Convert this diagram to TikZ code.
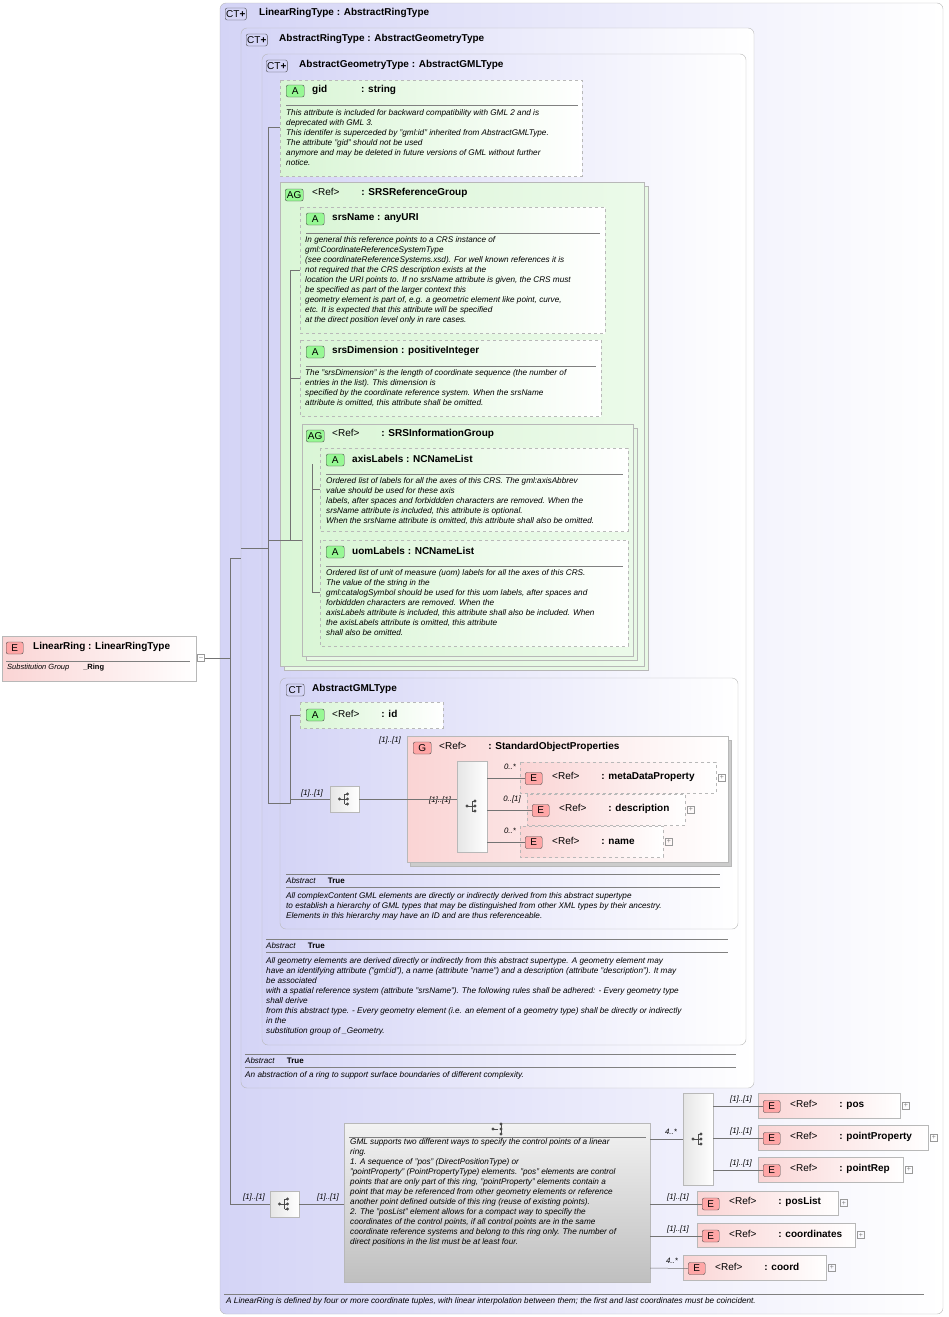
\documentclass[tikz,border=0pt]{standalone}
\usepackage{fontspec}
\setmainfont{Liberation Sans}
\usetikzlibrary{shadows}
\definecolor{lav}{HTML}{D4D4F6}
\definecolor{grn}{HTML}{D8F5D4}
\definecolor{pnk}{HTML}{FAD4D4}
\definecolor{bdr}{HTML}{B8B8B8}
\tikzset{
 ct/.style={draw=bdr,rounded corners=6pt,left color=lav,right color=white,shading angle=90},
 attb/.style={draw=bdr,dashed,left color=grn,right color=white},
 el/.style={draw=bdr,left color=pnk,right color=white},
 eld/.style={el,dashed},
 badge/.style={draw=black!70,rounded corners=2pt,inner sep=1pt,minimum width=18pt,minimum height=12pt,font=\fontsize{10}{10}\selectfont,anchor=west},
 ttl/.style={anchor=west,font=\fontsize{10}{12}\selectfont\bfseries,inner sep=0pt},
 dsc/.style={anchor=north west,font=\fontsize{8.2}{10}\selectfont\itshape,align=left,inner sep=0pt},
 card/.style={font=\fontsize{7.8}{9}\selectfont\itshape,inner sep=1pt},
 ln/.style={draw=black!55,line width=0.5pt},
 seq/.style={draw=bdr,left color=black!10,right color=white},
 plus/.style={draw=black!40,minimum size=7pt,inner sep=0pt,font=\fontsize{7}{7}\selectfont,text=black!50},
}
\newcommand\Badge[4]{\node[badge,fill=#3] (#1) at (#2) {#4};}
\newcommand\Seqicon[2]{% name, center
 \node[seq,minimum width=29pt,minimum height=26pt] (#1) at (#2) {};
 \fill[black!70] (#1.center)++(-5,0) circle(1.6) ++(8,-5) circle(1.6) ++(0,5) circle(1.6) ++(0,5) circle(1.6);
 \draw[black!70] (#1.center)++(-5,0) -- ++(5,0) ++(0,-5) -- ++(0,10) ++(0,-10) -- ++(3,0) ++(-3,5) -- ++(3,0) ++(-3,5) -- ++(3,0);}
\newcommand\Ebox[7]{% name, x1,y1,x2,y2, style, text
 \path[#6] (#2,#3) rectangle (#4,#5);
 \node[badge,fill=red!35,minimum width=17pt] (#1b) at (#2+5,{(#3+#5)/2+1}) {E};
 \node[ttl] (#1) at (#2+32,{(#3+#5)/2-1}) {#7};
 \node[plus] (#1p) at (#4+6,{(#3+#5)/2}) {+};}
\begin{document}
\begin{tikzpicture}[x=1pt,y=-1pt]
\useasboundingbox (0,0) rectangle (948,1317);
% outer
\path[ct] (220,3) rectangle (943,1314);
\Badge{b1}{225,14}{lav}{CT\textbf{+}}
\node[ttl] (t1) at (259,13) {LinearRingType : AbstractRingType};
\path[ct] (241,28) rectangle (754,1088);
\Badge{b2}{246,40}{lav}{CT\textbf{+}}
\node[ttl] (t2) at (279,39) {AbstractRingType : AbstractGeometryType};
\path[ct] (262,54) rectangle (746,1045);
\Badge{b3}{266,66}{lav}{CT\textbf{+}}
\node[ttl] (t3) at (299,65) {AbstractGeometryType : AbstractGMLType};
% gid
\path[attb] (280,80) rectangle (582,176);
\Badge{bg}{286,91}{grn!70!green}{A}
\node[ttl] (gid) at (312,90) {gid\hspace{34pt}: string};
\draw[black!50] (286,105) -- (578,105);
\node[dsc] (gidd) at (286,109) {This attribute is included for backward compatibility with GML 2 and is\\deprecated with GML 3.\\This identifer is superceded by "gml:id" inherited from AbstractGMLType.\\The attribute "gid" should not be used\\anymore and may be deleted in future versions of GML without further\\notice.};
% SRSReferenceGroup
\path[draw=bdr,fill=grn!60] (284,186) rectangle (648,670);
\path[draw=bdr,left color=grn!95,right color=grn!50] (280,182) rectangle (644,666);
\Badge{ba}{285,195}{grn!70!green}{AG}
\node[ttl] (srg) at (312,193) {\mdseries<Ref>\hspace{22pt}\bfseries: SRSReferenceGroup};
\path[attb] (300,207) rectangle (605,333);
\Badge{bs1}{306,219}{grn!70!green}{A}
\node[ttl] (srsn) at (332,218) {srsName : anyURI};
\draw[black!50] (306,233) -- (600,233);
\node[dsc] (srsnd) at (305,236) {In general this reference points to a CRS instance of\\gml:CoordinateReferenceSystemType\\(see coordinateReferenceSystems.xsd). For well known references it is\\not required that the CRS description exists at the\\location the URI points to. If no srsName attribute is given, the CRS must\\be specified as part of the larger context this\\geometry element is part of, e.g. a geometric element like point, curve,\\etc. It is expected that this attribute will be specified\\at the direct position level only in rare cases.};
\path[attb] (300,340) rectangle (601,416);
\Badge{bs2}{306,352}{grn!70!green}{A}
\node[ttl] (srsd) at (332,351) {srsDimension : positiveInteger};
\draw[black!50] (306,366) -- (596,366);
\node[dsc] (srsdd) at (305,369) {The "srsDimension" is the length of coordinate sequence (the number of\\entries in the list). This dimension is\\specified by the coordinate reference system. When the srsName\\attribute is omitted, this attribute shall be omitted.};
% SRSInformationGroup
\path[draw=bdr,fill=grn!60] (306,428) rectangle (637,660);
\path[draw=bdr,left color=grn!95,right color=grn!50] (302,424) rectangle (633,656);
\Badge{ba2}{306,436}{grn!70!green}{AG}
\node[ttl] (sig) at (332,434) {\mdseries<Ref>\hspace{22pt}\bfseries: SRSInformationGroup};
\path[attb] (320,448) rectangle (628,531);
\Badge{bs3}{326,460}{grn!70!green}{A}
\node[ttl] (axl) at (352,459) {axisLabels : NCNameList};
\draw[black!50] (326,474) -- (623,474);
\node[dsc] (axld) at (326,477) {Ordered list of labels for all the axes of this CRS. The gml:axisAbbrev\\value should be used for these axis\\labels, after spaces and forbiddden characters are removed. When the\\srsName attribute is included, this attribute is optional.\\When the srsName attribute is omitted, this attribute shall also be omitted.};
\path[attb] (320,540) rectangle (628,646);
\Badge{bs4}{326,552}{grn!70!green}{A}
\node[ttl] (uoml) at (352,551) {uomLabels : NCNameList};
\draw[black!50] (326,566) -- (623,566);
\node[dsc] (uomd) at (326,569) {Ordered list of unit of measure (uom) labels for all the axes of this CRS.\\The value of the string in the\\gml:catalogSymbol should be used for this uom labels, after spaces and\\forbiddden characters are removed. When the\\axisLabels attribute is included, this attribute shall also be included. When\\the axisLabels attribute is omitted, this attribute\\shall also be omitted.};
% AbstractGMLType
\path[ct] (280,678) rectangle (738,929);
\Badge{b4}{286,690}{lav}{CT}
\node[ttl] (t4) at (312,689) {AbstractGMLType};
\path[attb] (300,702) rectangle (443,728);
\Badge{bid}{306,715}{grn!70!green}{A}
\node[ttl] (idn) at (332,714) {\mdseries<Ref>\hspace{22pt}\bfseries: id};
\Seqicon{s1}{344.5,799}
\node[card] (c1) at (312,793) {[1]..[1]};
\node[card] (c2) at (390,740) {[1]..[1]};
\path[draw=bdr,fill=black!20] (410,740) rectangle (731,866);
\path[draw=bdr,left color=pnk,right color=white] (407,736) rectangle (728,862);
\node[badge,fill=red!35] (bgr) at (413,748) {G};
\node[ttl] (sop) at (439,747) {\mdseries<Ref>\hspace{22pt}\bfseries: StandardObjectProperties};
\node[seq,minimum width=30pt,minimum height=91pt] (s2) at (472,806.5) {};
\fill[black!70] (467,806) circle(1.6) (475,801) circle(1.6) (475,806) circle(1.6) (475,811) circle(1.6);
\draw[black!70] (467,806)--(472,806) (472,801)--(472,811) (472,801)--(475,801) (472,811)--(475,811) (472,806)--(475,806);
\node[card] (c3) at (440,800) {[1]..[1]};
\Ebox{mdp}{520}{762}{716}{793}{eld}{\mdseries<Ref>\hspace{22pt}\bfseries: metaDataProperty}
\Ebox{dsn}{527}{794}{685}{825}{eld}{\mdseries<Ref>\hspace{22pt}\bfseries: description}
\Ebox{nm}{520}{826}{663}{857}{eld}{\mdseries<Ref>\hspace{22pt}\bfseries: name}
\node[card] (c4) at (510,767) {0..*};
\node[card] (c5) at (512,799) {0..[1]};
\node[card] (c6) at (510,831) {0..*};
\draw[black!50] (286,874) -- (720,874);
\node[dsc,font=\fontsize{8}{10}\selectfont] (ab1) at (286,877) {\textit{Abstract}\hspace{12pt}\textbf{True}};
\draw[black!50] (286,887) -- (720,887);
\node[dsc] (ab1d) at (286,892) {All complexContent GML elements are directly or indirectly derived from this abstract supertype\\to establish a hierarchy of GML types that may be distinguished from other XML types by their ancestry.\\Elements in this hierarchy may have an ID and are thus referenceable.};
\draw[black!50] (266,939) -- (728,939);
\node[dsc,font=\fontsize{8}{10}\selectfont] (ab2) at (266,942) {\textit{Abstract}\hspace{12pt}\textbf{True}};
\draw[black!50] (266,952) -- (728,952);
\node[dsc] (ab2d) at (266,957) {All geometry elements are derived directly or indirectly from this abstract supertype. A geometry element may\\have an identifying attribute ("gml:id"), a name (attribute "name") and a description (attribute "description"). It may\\be associated\\with a spatial reference system (attribute "srsName"). The following rules shall be adhered: - Every geometry type\\shall derive\\from this abstract type. - Every geometry element (i.e. an element of a geometry type) shall be directly or indirectly\\in the\\substitution group of \_Geometry.};
\draw[black!50] (245,1054) -- (736,1054);
\node[dsc,font=\fontsize{8}{10}\selectfont] (ab3) at (245,1057) {\textit{Abstract}\hspace{12pt}\textbf{True}};
\draw[black!50] (245,1067) -- (736,1067);
\node[dsc] (ab3d) at (245,1071) {An abstraction of a ring to support surface boundaries of different complexity.};
% LinearRing element
\path[el] (2,636) rectangle (196,681);
\node[badge,fill=red!35,minimum width=17pt] (lrb) at (6,648) {E};
\node[ttl] (lr) at (33,647) {LinearRing : LinearRingType};
\draw[black!50] (6,661) -- (190,661);
\node[dsc,font=\fontsize{7.5}{9}\selectfont] (lrs) at (7,664) {\textit{Substitution Group}\hspace{14pt}\textbf{\_Ring}};
\node[plus] (lrp) at (201,658) {--};
% bottom
\Seqicon{s3}{284.5,1204}
\node[card] (c7) at (254,1197) {[1]..[1]};
\node[card] (c8) at (328,1197) {[1]..[1]};
\path[draw=bdr,top color=black!5,bottom color=black!25] (344,1123) rectangle (650,1282);
\fill[black!70] (493,1129) circle(1.6) (501,1124) circle(1.6) (501,1129) circle(1.6) (501,1134) circle(1.6);
\draw[black!70] (493,1129)--(498,1129) (501,1124)--(501,1134);
\draw[black!50] (349,1137) -- (646,1137);
\node[dsc] (chd) at (350,1138) {GML supports two different ways to specify the control points of a linear\\ring.\\1. A sequence of "pos" (DirectPositionType) or\\"pointProperty" (PointPropertyType) elements. "pos" elements are control\\points that are only part of this ring, "pointProperty" elements contain a\\point that may be referenced from other geometry elements or reference\\another point defined outside of this ring (reuse of existing points).\\2. The "posList" element allows for a compact way to specifiy the\\coordinates of the control points, if all control points are in the same\\coordinate reference systems and belong to this ring only. The number of\\direct positions in the list must be at least four.};
\node[seq,minimum width=30pt,minimum height=92pt] (s4) at (698,1139) {};
\fill[black!70] (693,1139) circle(1.6) (701,1134) circle(1.6) (701,1139) circle(1.6) (701,1144) circle(1.6);
\draw[black!70] (693,1139)--(698,1139) (698,1134)--(698,1144) (698,1134)--(701,1134) (698,1144)--(701,1144) (698,1139)--(701,1139);
\node[card] (c9) at (671,1132) {4..*};
\Ebox{pos}{758}{1093}{900}{1118}{el}{\mdseries<Ref>\hspace{22pt}\bfseries: pos}
\Ebox{pp}{758}{1125}{928}{1150}{el}{\mdseries<Ref>\hspace{22pt}\bfseries: pointProperty}
\Ebox{pr}{758}{1157}{903}{1182}{el}{\mdseries<Ref>\hspace{22pt}\bfseries: pointRep}
\Ebox{pl}{697}{1191}{838}{1215}{el}{\mdseries<Ref>\hspace{22pt}\bfseries: posList}
\Ebox{co}{697}{1223}{855}{1247}{el}{\mdseries<Ref>\hspace{22pt}\bfseries: coordinates}
\Ebox{cd}{683}{1255}{826}{1280}{el}{\mdseries<Ref>\hspace{22pt}\bfseries: coord}
\node[card] (c10) at (741,1099) {[1]..[1]};
\node[card] (c11) at (741,1131) {[1]..[1]};
\node[card] (c12) at (741,1163) {[1]..[1]};
\node[card] (c13) at (678,1197) {[1]..[1]};
\node[card] (c14) at (678,1229) {[1]..[1]};
\node[card] (c15) at (672,1261) {4..*};
\draw[black!50] (224,1294) -- (924,1294);
\node[dsc] (fin) at (226,1297) {A LinearRing is defined by four or more coordinate tuples, with linear interpolation between them; the first and last coordinates must be coincident.};
% connectors
\draw[ln] (lrp.east) -- (230,658) coordinate (j0);
\draw[ln] (230,558) -- (230,1204) -- (s3.west);
\draw[ln] (230,558) -- (241,558);
\draw[ln] (241,548) -- (268,548);
\draw[ln] (268,127) -- (268,803) -- (280,803);
\draw[ln] (268,127) -- (280,127);
\draw[ln] (268,540) -- (290,540);
\draw[ln] (290,270) -- (290,540);
\draw[ln] (290,270) -- (300,270);
\draw[ln] (290,378) -- (300,378);
\draw[ln] (290,540) -- (302,540);
\draw[ln] (312,464) -- (312,592);
\draw[ln] (312,489) -- (320,489) (312,592) -- (320,592);
\draw[ln] (280,803) -- (290,803) -- (290,715) -- (300,715);
\draw[ln] (290,799) -- (s1.west);
\draw[ln] (s1.east) -- (s2.west |- s1.east);
\draw[ln] (s2.east |- mdpb.west) -- (mdpb.west);
\draw[ln] (s2.east |- dsnb.west) -- (dsnb.west);
\draw[ln] (s2.east |- nmb.west) -- (nmb.west);
\draw[ln] (s3.east) -- (344,1204);
\draw[ln] (650,1139) -- (s4.west);
\draw[ln] (s4.east |- posb.west) -- (posb.west);
\draw[ln] (s4.east |- ppb.west) -- (ppb.west);
\draw[ln] (s4.east |- prb.west) -- (prb.west);
\draw[ln] (650,1204) -- (plb.west);
\draw[ln] (650,1236) -- (cob.west);
\draw[ln] (650,1268) -- (cdb.west);
\end{tikzpicture}
\end{document}
